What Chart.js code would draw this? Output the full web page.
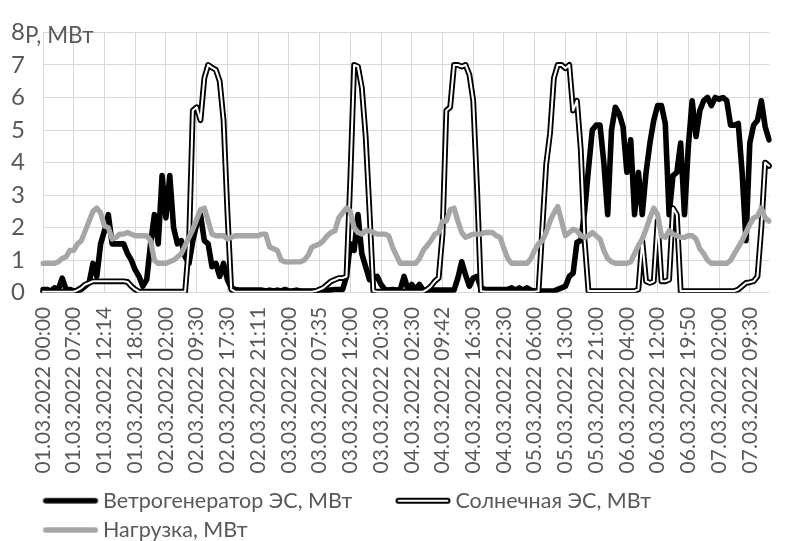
<!DOCTYPE html>
<html><head><meta charset="utf-8">
<script src="https://cdn.jsdelivr.net/npm/chart.js@4/dist/chart.umd.min.js"></script>
<style>html,body{margin:0;padding:0;background:#fff}#wrap{width:789px;height:541px}</style>
</head><body><div id="wrap"><canvas id="c" width="789" height="541"></canvas></div>
<script>
const tickLabels = ['01.03.2022 00:00','01.03.2022 07:00','01.03.2022 12:14','01.03.2022 18:00','02.03.2022 02:00','02.03.2022 09:30','02.03.2022 17:30','02.03.2022 21:11','03.03.2022 02:00','03.03.2022 07:35','03.03.2022 12:00','03.03.2022 20:30','04.03.2022 02:30','04.03.2022 09:42','04.03.2022 16:30','04.03.2022 22:30','05.03.2022 06:00','05.03.2022 13:00','05.03.2022 21:00','06.03.2022 04:00','06.03.2022 12:00','06.03.2022 19:50','07.03.2022 02:00','07.03.2022 09:30'];
const pointsPerTick = 8;
const seriesNames = ['Ветрогенератор ЭС, МВт','Солнечная ЭС, МВт','Нагрузка, МВт'];
const yAxisTitle = 'P, МВт';

const windMW = [
0.1,0.1,0.05,0.15,0.1,0.45,0.1,0.1,0.05,0.05,
0.1,0.2,0.3,0.9,0.5,1.5,1.9,2.4,1.5,1.5,
1.5,1.5,1.2,1.0,0.7,0.5,0.2,0.4,1.5,2.4,
1.5,3.6,2.3,3.6,2.0,1.5,1.6,1.1,0.9,1.6,
2.1,2.4,1.6,1.5,0.8,0.9,0.5,0.9,0.4,0.15,
0.1,0.08,0.08,0.08,0.08,0.08,0.08,0.08,0.05,0.08,
0.05,0.08,0.05,0.1,0.05,0.05,0.08,0.05,0.05,0.05,
0.05,0.05,0.05,0.05,0.08,0.08,0.1,0.1,0.1,0.5,
1.5,1.3,2.4,1.2,0.8,0.4,0.45,0.5,0.25,0.1,
0.08,0.1,0.08,0.1,0.5,0.1,0.25,0.1,0.25,0.08,
0.08,0.08,0.08,0.08,0.08,0.08,0.08,0.08,0.45,0.95,
0.55,0.2,0.45,0.5,0.15,0.1,0.1,0.1,0.1,0.1,
0.1,0.1,0.15,0.08,0.15,0.08,0.15,0.08,0.05,0.05,
0.05,0.05,0.05,0.05,0.1,0.15,0.2,0.5,0.6,1.55,
1.6,2.5,3.8,5.0,5.15,5.15,4.0,2.4,5.0,5.7,
5.5,5.1,3.7,4.7,2.4,3.7,2.4,3.7,4.6,5.3,
5.75,5.75,5.2,2.4,3.6,3.7,4.6,2.4,4.5,5.9,
4.8,5.6,5.9,6.0,5.75,6.0,5.95,6.0,5.9,5.15,
5.15,5.2,3.7,1.6,4.6,5.15,5.3,5.9,5.1,4.7
];
const solarMW = [
0.03,0.03,0.03,0.03,0.03,0.03,0.03,0.03,0.03,0.08,
0.15,0.25,0.3,0.35,0.35,0.35,0.35,0.35,0.35,0.35,
0.35,0.35,0.33,0.2,0.1,0.03,0.03,0.03,0.03,0.03,
0.03,0.03,0.03,0.03,0.03,0.03,0.03,0.03,1.5,5.6,
5.7,5.3,6.6,7.0,6.92,6.85,6.5,5.3,2.5,0.1,
0.03,0.03,0.03,0.03,0.03,0.03,0.03,0.03,0.03,0.03,
0.03,0.03,0.03,0.03,0.03,0.03,0.03,0.03,0.03,0.03,
0.03,0.05,0.1,0.15,0.25,0.35,0.4,0.45,0.45,0.5,
3.5,7.0,6.95,6.3,4.8,2.5,0.05,0.03,0.03,0.03,
0.03,0.03,0.03,0.03,0.03,0.03,0.03,0.03,0.03,0.03,
0.1,0.2,0.35,0.45,1.8,5.6,5.7,7.0,7.0,6.95,
7.0,6.7,5.9,3.2,0.05,0.03,0.03,0.03,0.03,0.03,
0.03,0.03,0.03,0.03,0.03,0.03,0.03,0.03,0.03,0.05,
2.0,3.95,4.9,6.6,7.0,7.0,6.9,7.0,5.6,5.9,
4.4,1.6,0.05,0.05,0.05,0.05,0.05,0.05,0.05,0.05,
0.05,0.05,0.05,0.05,0.05,0.1,1.6,0.35,0.3,0.35,
2.2,0.35,0.35,0.4,2.6,2.4,0.05,0.05,0.05,0.05,
0.05,0.05,0.05,0.05,0.05,0.05,0.05,0.05,0.05,0.05,
0.05,0.1,0.2,0.3,0.32,0.35,0.5,2.0,4.0,3.9
];
const loadMW = [
0.9,0.9,0.9,0.9,0.95,1.05,1.1,1.3,1.3,1.5,
1.6,1.9,2.2,2.5,2.6,2.45,2.05,2.0,1.65,1.7,
1.8,1.8,1.85,1.8,1.75,1.75,1.75,1.75,1.6,1.0,
0.9,0.9,0.9,0.95,1.0,1.1,1.2,1.45,1.7,1.95,
2.25,2.55,2.6,2.2,1.8,1.75,1.75,1.75,1.65,1.7,
1.75,1.75,1.75,1.75,1.75,1.75,1.75,1.8,1.8,1.4,
1.35,1.3,1.0,0.95,0.95,0.95,0.95,0.95,1.0,1.15,
1.4,1.45,1.5,1.6,1.75,1.85,1.9,2.3,2.45,2.6,
2.5,2.0,1.85,1.8,1.9,1.9,1.85,1.8,1.8,1.8,
1.75,1.4,1.15,0.9,0.9,0.9,0.9,0.9,1.05,1.3,
1.45,1.6,1.8,1.85,2.2,2.2,2.55,2.6,2.2,1.85,
1.7,1.75,1.8,1.8,1.8,1.85,1.85,1.85,1.75,1.7,
1.35,1.05,0.9,0.9,0.9,0.9,0.9,1.05,1.3,1.5,
1.6,1.85,2.2,2.45,2.65,2.2,1.75,1.85,1.95,1.9,
1.75,1.7,1.75,1.85,1.75,1.65,1.3,1.05,0.95,0.9,
0.9,0.9,0.9,0.95,1.2,1.45,1.65,1.95,2.3,2.6,
2.4,1.75,1.7,1.9,1.8,1.75,1.7,1.7,1.75,1.75,
1.65,1.35,1.2,1.0,0.9,0.9,0.9,0.9,0.9,1.0,
1.2,1.4,1.6,1.85,2.1,2.3,2.35,2.6,2.3,2.2
];

const categories = windMW.map((_, i) => (i % pointsPerTick === 0 && tickLabels[i / pointsPerTick]) ? tickLabels[i / pointsPerTick] : '');

const TXT = '#595959', GRID = '#d9d9d9', GRAY = '#a6a6a6';
const FONT = 'Lato';
const LEG_FONT = 21.5, LEG_PAD = 7.8, LEG_BOX = 84.45, LEG_OFF = 35.2, LEG_LEN = 55;

function makeSample(kind) {
  const c = document.createElement('canvas');
  c.width = Math.round(LEG_BOX * 2); c.height = 12;
  const g = c.getContext('2d');
  const x0 = c.width / 2 - LEG_BOX / 2 + LEG_OFF, x1 = x0 + LEG_LEN, y = 6;
  g.lineCap = 'round';
  function seg(col, w, inset) { g.strokeStyle = col; g.lineWidth = w; g.beginPath(); g.moveTo(x0 + inset, y); g.lineTo(x1 - inset, y); g.stroke(); }
  if (kind === 0) seg('#000', 5.6, 2.8);
  else if (kind === 1) { seg('#000', 5.8, 2.9); seg('#fff', 2.2, 3.2); }
  else seg(GRAY, 5.3, 2.65);
  return c;
}
const samples = [makeSample(0), makeSample(1), makeSample(2)];

const axisTitlePlugin = {
  id: 'axisTitle',
  afterDraw(chart) {
    const {ctx, chartArea} = chart;
    ctx.save();
    ctx.font = '22.5px ' + FONT;
    ctx.fillStyle = TXT;
    ctx.textBaseline = 'middle';
    ctx.textAlign = 'left';
    ctx.fillText(yAxisTitle, 25, chartArea.top + 3);
    ctx.restore();
  }
};

new Chart(document.getElementById('c'), {
  type: 'line',
  data: {
    labels: categories,
    datasets: [
      { label: seriesNames[0], data: windMW, borderColor: '#000', borderWidth: 5.6, order: 3 },
      { label: seriesNames[1], data: solarMW, borderColor: '#000', borderWidth: 5.8, order: 2 },
      { label: seriesNames[1] + ' ', data: solarMW, borderColor: '#fff', borderWidth: 2.1, order: 1 },
      { label: seriesNames[2], data: loadMW, borderColor: GRAY, borderWidth: 5.3, order: 0 }
    ]
  },
  options: {
    responsive: false,
    devicePixelRatio: 1,
    animation: false,
    layout: { padding: { top: 20, left: 0, right: 0, bottom: -9.75 } },
    elements: {
      point: { radius: 0, hoverRadius: 0 },
      line: { tension: 0, borderJoinStyle: 'round', borderCapStyle: 'round', fill: false }
    },
    plugins: {
      tooltip: { enabled: false },
      legend: {
        position: 'bottom',
        align: 'start',
        labels: {
          usePointStyle: true,
          pointStyleWidth: LEG_BOX,
          padding: LEG_PAD,
          color: TXT,
          font: { family: FONT, size: LEG_FONT },
          generateLabels: () => seriesNames.map((t, k) => ({
            text: t, fontColor: TXT, fillStyle: '#000', strokeStyle: '#000', lineWidth: 0,
            hidden: false, pointStyle: samples[k], datasetIndex: k === 2 ? 3 : k
          }))
        }
      }
    },
    scales: {
      x: {
        type: 'category',
        offset: false,
        grid: { color: GRID, lineWidth: 1, drawTicks: false },
        border: { display: false },
        ticks: {
          autoSkip: false, minRotation: 90, maxRotation: 90, padding: 14,
          color: TXT, font: { family: FONT, size: 21 },
          callback: (v, i) => (i % pointsPerTick === 0 && tickLabels[i / pointsPerTick]) ? tickLabels[i / pointsPerTick] : null
        },
        afterFit: s => { s.height = 189.45; }
      },
      y: {
        min: 0, max: 8,
        grid: { color: GRID, lineWidth: 1, drawTicks: false },
        border: { display: false },
        ticks: { stepSize: 1, padding: 18, color: TXT, font: { family: FONT, size: 24 } },
        afterFit: s => { s.width = 43; }
      }
    }
  },
  plugins: [axisTitlePlugin]
});
</script>
</body></html>
